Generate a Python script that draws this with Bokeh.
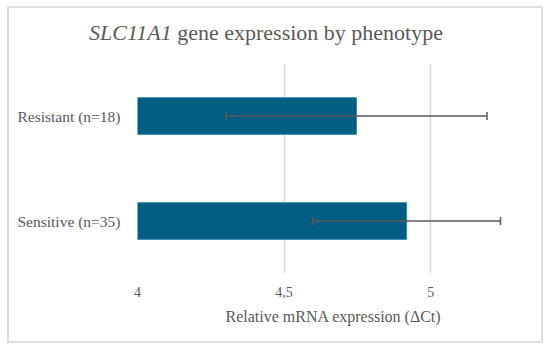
from bokeh.plotting import figure
from bokeh.layouts import column
from bokeh.models import ColumnDataSource, Whisker, TeeHead, FactorRange, FixedTicker, Div
from bokeh.embed import file_html
from bokeh.resources import INLINE

categories = ["Sensitive (n=35)", "Resistant (n=18)"]
means = [4.918, 4.747]
errors = [0.32, 0.445]
x_ticks = [4, 4.5, 5]
tick_labels = {4: "4", 4.5: "4,5", 5: "5"}
title_italic = "SLC11A1"
title_rest = "gene expression by phenotype"
x_title = "Relative mRNA expression (\u0394Ct)"

FONT = "Liberation Serif"
GRAY = "#595959"
CW = 532          # inner content width
TH = 47           # title strip height
MH = 286          # main plot height

lower = [m - e for m, e in zip(means, errors)]
upper = [m + e for m, e in zip(means, errors)]
src = ColumnDataSource(dict(cat=categories, mean=means, lower=lower, upper=upper))

# ---- title strip ----
title_html = (
    f'<div style="font-family:\'{FONT}\';font-size:22px;line-height:22px;color:{GRAY};'
    f'padding-left:80px;padding-top:14px;white-space:nowrap;margin:0">'
    f'<i>{title_italic}</i> {title_rest}</div>'
)
t = Div(text=title_html, width=CW, height=TH, margin=(0, 0, 0, 0))

# ---- main plot ----
p = figure(width=CW, height=MH, y_range=FactorRange(*categories, range_padding=0),
           x_range=(4, 5.337), output_backend="svg", toolbar_location=None,
           min_border_left=128, min_border_right=12, min_border_top=8, min_border_bottom=68)
p.outline_line_color = None

p.hbar(y="cat", left=4, right="mean", height=0.35, source=src,
       fill_color="#005e85", line_color="#3a8bb1", line_width=1)

w = Whisker(source=src, base="cat", lower="lower", upper="upper", dimension="width",
            line_color=GRAY, line_width=1.5, level="overlay",
            upper_head=TeeHead(size=8, line_color=GRAY, line_width=1.5),
            lower_head=TeeHead(size=8, line_color=GRAY, line_width=1.5))
p.add_layout(w)

p.xaxis.ticker = FixedTicker(ticks=x_ticks)
p.xaxis.major_label_overrides = tick_labels
p.xaxis.axis_line_color = None
p.xaxis.major_tick_line_color = None
p.xaxis.minor_tick_line_color = None
p.xaxis.major_label_standoff = 7
p.xaxis.major_label_text_font = FONT
p.xaxis.major_label_text_font_size = "14px"
p.xaxis.major_label_text_color = GRAY
p.xaxis.axis_label = x_title
p.xaxis.axis_label_text_font = FONT
p.xaxis.axis_label_text_font_style = "normal"
p.xaxis.axis_label_text_font_size = "16px"
p.xaxis.axis_label_text_color = GRAY
p.xaxis.axis_label_standoff = 8

p.yaxis.axis_line_color = None
p.yaxis.major_tick_line_color = None
p.yaxis.minor_tick_line_color = None
p.yaxis.major_label_standoff = 11
p.yaxis.major_label_text_font = FONT
p.yaxis.major_label_text_font_size = "15.5px"
p.yaxis.major_label_text_color = GRAY

p.xgrid.grid_line_color = "#d9d9d9"
p.xgrid.grid_line_width = 1.5
p.ygrid.grid_line_color = None

layout = column(t, p, spacing=0,
                styles={"margin": "6px 0 0 7px", "border": "2px solid #dedede"})

open("out.html", "w").write(file_html(layout, INLINE))
